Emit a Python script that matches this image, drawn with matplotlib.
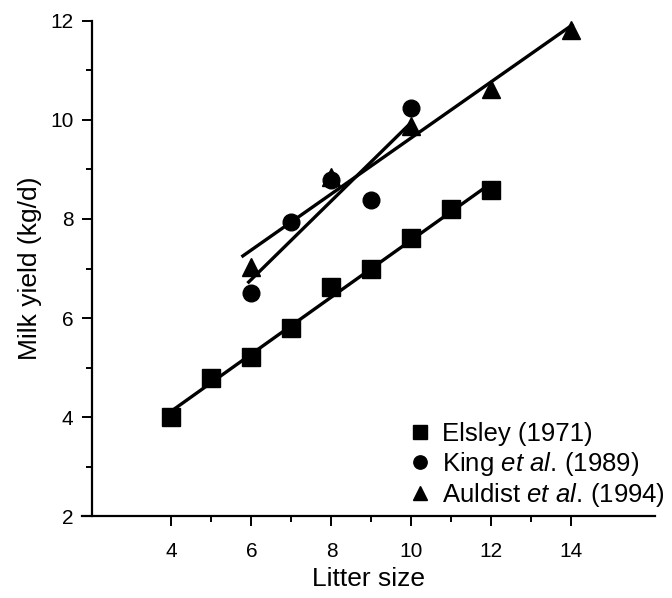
import numpy as np
import matplotlib
matplotlib.use("Agg")
import matplotlib.pyplot as plt
from matplotlib.ticker import FixedLocator

plt.rcParams['font.family'] = ['Liberation Sans', 'DejaVu Sans']
plt.rcParams['mathtext.fontset'] = 'custom'
plt.rcParams['mathtext.rm'] = 'Liberation Sans'
plt.rcParams['mathtext.it'] = 'Liberation Sans:italic'

# Data
elsley_x = [4, 5, 6, 7, 8, 9, 10, 11, 12]
elsley_y = [4.0, 4.79, 5.22, 5.80, 6.63, 6.98, 7.61, 8.20, 8.59]
king_x = [6, 7, 8, 9, 10]
king_y = [6.50, 7.93, 8.79, 8.38, 10.24]
auldist_x = [6, 8, 10, 12, 14]
auldist_y = [7.04, 8.85, 9.88, 10.62, 11.82]
# regression line extents (litter size)
elsley_fit_range = [4, 12]
king_fit_range = [5.9, 10]
auldist_fit_range = [5.75, 14.05]

labels = ['Elsley (1971)', r'King $\it{et\ al.}\,$(1989)', r'Auldist $\it{et\ al.}\,$(1994)']

fig = plt.figure(figsize=(6.72, 5.98), dpi=100)
ax = fig.add_axes([0.1213, 0.1371, 0.854, 0.8278])

series = [
    (elsley_x, elsley_y, elsley_fit_range, 's', 13),
    (king_x, king_y, king_fit_range, 'o', 12),
    (auldist_x, auldist_y, auldist_fit_range, '^', 13),
]
handles = []
for (xs, ys, rng, mk, ms), lab in zip(series, labels):
    k, b = np.polyfit(xs, ys, 1)
    xr = np.array(rng, dtype=float)
    ax.plot(xr, k * xr + b, color='black', lw=2.4, solid_capstyle='butt', zorder=2)
    h, = ax.plot(xs, ys, linestyle='none', marker=mk, ms=ms, color='black', zorder=3, label=lab)
    handles.append(h)

ax.set_xlim(1.75, 16.1)
ax.set_ylim(2, 12)
ax.spines['top'].set_visible(False)
ax.spines['right'].set_visible(False)
ax.spines['left'].set_position(('data', 2))
ax.spines['left'].set_linewidth(1.6)
ax.spines['bottom'].set_linewidth(1.6)

ax.xaxis.set_major_locator(FixedLocator([4, 6, 8, 10, 12, 14]))
ax.xaxis.set_minor_locator(FixedLocator([5, 7, 9, 11, 13]))
ax.yaxis.set_major_locator(FixedLocator([2, 4, 6, 8, 10, 12]))
ax.yaxis.set_minor_locator(FixedLocator([3, 5, 7, 9, 11]))
ax.tick_params(which='major', direction='out', length=7, width=1.4, labelsize=15, pad=12, color='black')
ax.tick_params(which='minor', direction='out', length=4.5, width=1.4)
ax.tick_params(axis='y', which='major', pad=6)

ax.set_xlabel('Litter size', fontsize=19, labelpad=4)
ax.set_ylabel('Milk yield (kg/d)', fontsize=19, labelpad=6)

leg = ax.legend(handles=handles, loc='lower left', bbox_to_anchor=(0.572, 0.015),
                frameon=False, fontsize=18.5, handlelength=0.8, handletextpad=0.45,
                labelspacing=0.12, borderpad=0, borderaxespad=0, markerscale=0.8)

fig.savefig('out.png', dpi=100)
